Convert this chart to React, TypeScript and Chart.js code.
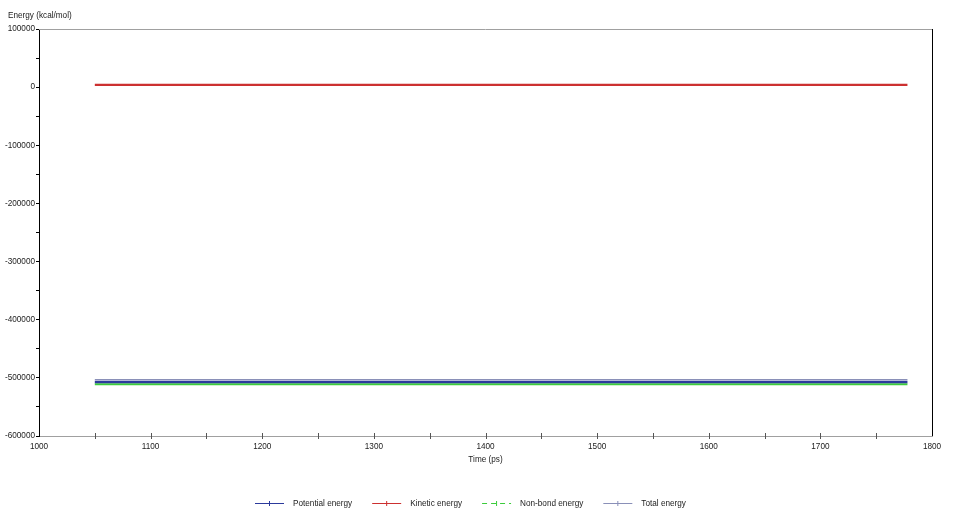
import React, { useEffect, useRef } from 'react';
import { Chart, registerables } from 'chart.js';

Chart.register(...registerables);

const times = [1050, 1078, 1106, 1134, 1162, 1190, 1218, 1246, 1274, 1302, 1330, 1358, 1386, 1414, 1442, 1470, 1498, 1526, 1554, 1582, 1610, 1638, 1666, 1694, 1722, 1750, 1778];
const potentialEnergy = [-507000, -507000, -507000, -507000, -507000, -507000, -507000, -507000, -507000, -507000, -507000, -507000, -507000, -507000, -507000, -507000, -507000, -507000, -507000, -507000, -507000, -507000, -507000, -507000, -507000, -507000, -507000];
const kineticEnergy = [4000, 4000, 4000, 4000, 4000, 4000, 4000, 4000, 4000, 4000, 4000, 4000, 4000, 4000, 4000, 4000, 4000, 4000, 4000, 4000, 4000, 4000, 4000, 4000, 4000, 4000, 4000];
const nonBondEnergy = [-511000, -511000, -511000, -511000, -511000, -511000, -511000, -511000, -511000, -511000, -511000, -511000, -511000, -511000, -511000, -511000, -511000, -511000, -511000, -511000, -511000, -511000, -511000, -511000, -511000, -511000, -511000];
const totalEnergy = [-503000, -503000, -503000, -503000, -503000, -503000, -503000, -503000, -503000, -503000, -503000, -503000, -503000, -503000, -503000, -503000, -503000, -503000, -503000, -503000, -503000, -503000, -503000, -503000, -503000, -503000, -503000];

const seriesNames = ['Potential energy', 'Kinetic energy', 'Non-bond energy', 'Total energy'];
const seriesColors = ['#2c3a9c', '#cc3030', '#3ccc3c', '#8a90b8'];
const yAxisTitle = 'Energy (kcal/mol)';
const xAxisTitle = 'Time (ps)';

const FONT = 'Liberation Sans';
const TEXT = '#222';

const toPoints = (vals: number[]) => vals.map((v, i) => ({ x: times[i], y: v }));

export default function App() {
  const ref = useRef<HTMLCanvasElement | null>(null);

  useEffect(() => {
    document.body.style.margin = '0';
    document.body.style.overflow = 'hidden';
    const canvas = ref.current;
    if (!canvas) return;

    const framePlugin = {
      id: 'frame',
      afterDraw(chart: any) {
        const { ctx, chartArea } = chart;
        const { left, right, top, bottom } = chartArea;
        ctx.save();
        ctx.lineWidth = 1;
        ctx.strokeStyle = '#a0a0a0';
        ctx.beginPath();
        ctx.moveTo(left, top + 0.5);
        ctx.lineTo(right, top + 0.5);
        ctx.stroke();
        ctx.strokeStyle = '#000';
        ctx.beginPath();
        ctx.moveTo(right + 0.5, top);
        ctx.lineTo(right + 0.5, bottom);
        ctx.stroke();
        const xs = chart.scales.x;
        ctx.strokeStyle = '#555';
        xs.ticks.forEach((t: any) => {
          if (t.value <= 1000 || t.value >= 1800) return;
          const px = Math.round(xs.getPixelForValue(t.value)) + 0.5;
          ctx.beginPath();
          ctx.moveTo(px, bottom - 3);
          ctx.lineTo(px, bottom + 3);
          ctx.stroke();
        });
        ctx.fillStyle = TEXT;
        ctx.font = `8.2px "${FONT}"`;
        ctx.textBaseline = 'middle';
        ctx.textAlign = 'left';
        ctx.fillText(yAxisTitle, 8, 16);
        // legend
        const ly = 503;
        let x = 255;
        chart.data.datasets.forEach((ds: any, i: number) => {
          const col = seriesColors[i];
          ctx.fillStyle = col;
          if (i === 2) {
            for (let s = 0; s < 29; s += 9) ctx.fillRect(x + s, ly, Math.min(5, 29 - s), 1);
          } else {
            ctx.fillRect(x, ly, 29, 1);
          }
          ctx.fillRect(x + 14, ly - 2, 1, 5);
          ctx.fillStyle = TEXT;
          ctx.fillText(ds.label, x + 38, ly + 0.5);
          x = x + 38 + ctx.measureText(ds.label).width + 20;
        });
        ctx.restore();
      },
    };

    const chart = new Chart(canvas, {
      type: 'line',
      data: {
        datasets: [
          { label: seriesNames[0], data: toPoints(potentialEnergy), borderColor: seriesColors[0], backgroundColor: seriesColors[0], borderWidth: 2.5, pointRadius: 0 },
          { label: seriesNames[1], data: toPoints(kineticEnergy), borderColor: seriesColors[1], backgroundColor: seriesColors[1], borderWidth: 2.2, pointRadius: 0 },
          { label: seriesNames[2], data: toPoints(nonBondEnergy), borderColor: seriesColors[2], backgroundColor: seriesColors[2], borderWidth: 2, pointRadius: 0 },
          { label: seriesNames[3], data: toPoints(totalEnergy), borderColor: seriesColors[3], backgroundColor: seriesColors[3], borderWidth: 1.2, pointRadius: 0 },
        ],
      },
      options: {
        animation: false,
        responsive: true,
        maintainAspectRatio: false,
        layout: { padding: { left: 0, right: 28, top: 29, bottom: 47 } },
        plugins: {
          tooltip: { enabled: false },
          title: { display: false },
          legend: { display: false },
        },
        scales: {
          x: {
            type: 'linear',
            min: 1000,
            max: 1800,
            afterFit(scale: any) { scale.height = 30; },
            border: { color: '#a0a0a0', width: 1 },
            grid: { drawOnChartArea: false, drawTicks: false },
            ticks: {
              stepSize: 50,
              autoSkip: false,
              maxRotation: 0,
              padding: 6,
              color: TEXT,
              font: { family: FONT, size: 8.2 },
              callback: (v: any) => (Number(v) % 100 === 0 ? String(v) : ''),
            },
            title: { display: true, text: xAxisTitle, color: TEXT, font: { family: FONT, size: 8.2 }, padding: { top: 0, bottom: 1 } },
          },
          y: {
            type: 'linear',
            min: -600000,
            max: 100000,
            afterFit(scale: any) { scale.width = 39; },
            border: { color: '#000', width: 1 },
            grid: { drawOnChartArea: false, drawTicks: true, tickLength: 3, color: '#000' },
            ticks: {
              stepSize: 50000,
              autoSkip: false,
              padding: 1,
              color: TEXT,
              font: { family: FONT, size: 8.2 },
              callback: (v: any) => (Number(v) % 100000 === 0 ? String(v) : ''),
            },
          },
        },
      },
      plugins: [framePlugin],
    } as any);

    return () => chart.destroy();
  }, []);

  return (
    <div style={{ position: 'relative', width: 960, height: 513, background: '#fff' }}>
      <canvas ref={ref} />
    </div>
  );
}
